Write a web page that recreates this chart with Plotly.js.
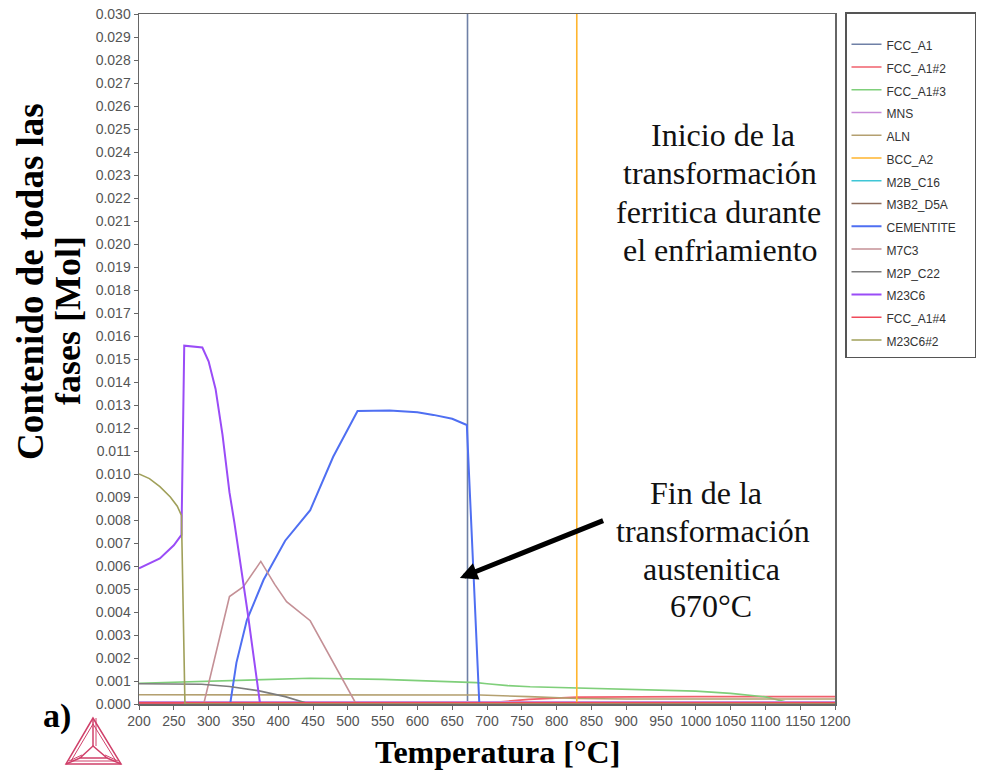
<!DOCTYPE html>
<html>
<head>
<meta charset="utf-8">
<script src="https://cdn.plot.ly/plotly-3.0.1.min.js"></script>
<style>html,body{margin:0;padding:0;background:#fff;}#chart{width:981px;height:778px;}</style>
</head>
<body>
<div id="chart"></div>
<script>
// ---- data (temperature in °C, amount in mol) ----
const phaseNames = ["FCC_A1","FCC_A1#2","FCC_A1#3","MNS","ALN","BCC_A2","M2B_C16","M3B2_D5A","CEMENTITE","M7C3","M2P_C22","M23C6","FCC_A1#4","M23C6#2"];

const T_FCC_A1 = [200, 672, 672, 700, 800, 900, 1200];
const V_FCC_A1 = [0, 0, 0.35, 0.6, 0.95, 1.0, 1.0];

const T_FCC_A1_2 = [200, 690, 720, 760, 830, 900, 1000, 1100, 1200];
const V_FCC_A1_2 = [0, 0, 0.0001, 0.0002, 0.0003, 0.00032, 0.00032, 0.00032, 0.00032];

const T_FCC_A1_3 = [200, 300, 400, 446, 550, 685, 700, 730, 762, 850, 948, 1000, 1050, 1100, 1142, 1200];
const V_FCC_A1_3 = [0.0009, 0.001, 0.0011, 0.00112, 0.00107, 0.00093, 0.00088, 0.0008, 0.00075, 0.00067, 0.00061, 0.00056, 0.00046, 0.00031, 0, 0];

const T_MNS = [200, 1200];
const V_MNS = [0.0001, 0.0001];

const T_ALN = [200, 690, 760, 830, 900, 1200];
const V_ALN = [0.0004, 0.00039, 0.00032, 0.00024, 0.00022, 0.00022];

const T_BCC_A2 = [200, 829, 829, 1200];
const V_BCC_A2 = [0.98, 0.98, 0, 0];

const T_M2B_C16 = [200, 1200];
const V_M2B_C16 = [0, 0];

const T_M3B2_D5A = [200, 1200];
const V_M3B2_D5A = [0, 0];

const T_CEMENTITE = [200, 331, 340, 355, 379, 410, 446, 479, 514, 560, 600, 623, 650, 671, 681, 689, 1200];
const V_CEMENTITE = [0, 0, 0.0018, 0.00365, 0.0054, 0.0071, 0.00843, 0.01075, 0.01274, 0.01276, 0.01268, 0.01257, 0.0124, 0.01213, 0.0054, 0, 0];

const T_M7C3 = [200, 293, 330, 350, 375, 395, 412, 446, 512, 1200];
const V_M7C3 = [0, 0, 0.00467, 0.0051, 0.0062, 0.0052, 0.00445, 0.00362, 0, 0];

const T_M2P_C22 = [200, 250, 290, 330, 371, 410, 445, 1200];
const V_M2P_C22 = [0.00088, 0.00088, 0.00086, 0.00076, 0.00058, 0.00032, 0, 0];

const T_M23C6 = [200, 230, 250, 261, 265, 291, 300, 310, 320, 330, 337, 356, 374, 1200];
const V_M23C6 = [0.0059, 0.00633, 0.0069, 0.00735, 0.01558, 0.0155, 0.0149, 0.0137, 0.0117, 0.0092, 0.0079, 0.0040, 0, 0];

const T_FCC_A1_4 = [200, 1200];
const V_FCC_A1_4 = [0.00005, 0.00005];

const T_M23C6_2 = [200, 215, 230, 245, 255, 261, 266, 1200];
const V_M23C6_2 = [0.0100, 0.0098, 0.00945, 0.0090, 0.0086, 0.0082, 0, 0];

const xTickVals = [200,250,300,350,400,450,500,550,600,650,700,750,800,850,900,950,1000,1050,1100,1150,1200];

// ---- styles ----
const colors = ["#6f80a6","#f0606c","#7fcf7a","#c88ad8","#b4a070","#ffb52e","#3fc6d6","#8c6c5c","#4f6ff2","#c49096","#7c7c7c","#9a4cf7","#f04a5a","#a0a05a"];
const series = [
  [T_FCC_A1, V_FCC_A1], [T_FCC_A1_2, V_FCC_A1_2], [T_FCC_A1_3, V_FCC_A1_3], [T_MNS, V_MNS],
  [T_ALN, V_ALN], [T_BCC_A2, V_BCC_A2], [T_M2B_C16, V_M2B_C16], [T_M3B2_D5A, V_M3B2_D5A],
  [T_CEMENTITE, V_CEMENTITE], [T_M7C3, V_M7C3], [T_M2P_C22, V_M2P_C22], [T_M23C6, V_M23C6],
  [T_FCC_A1_4, V_FCC_A1_4], [T_M23C6_2, V_M23C6_2]
];

const traces = series.map((s, i) => ({
  type: 'scatter', mode: 'lines',
  x: s[0], y: s[1],
  name: '<span style="font-size:12px">' + phaseNames[i] + '&nbsp;&nbsp;&nbsp;&nbsp;</span>',
  line: {color: colors[i], width: (i === 8 || i === 11) ? 2 : 1.6},
  cliponaxis: true
}));

// plot area geometry (pixels)
const L = 139, R = 835, TOP = 14, BOT = 704;
const W = 981, H = 778;
const px = v => (v - L) / (R - L);
const py = v => (BOT - v) / (BOT - TOP);

const serif = "Liberation Serif, Times New Roman, serif";
const annoFont = {family: serif, size: 32, color: '#111'};
const textLine = (t, x, y) => ({xref:'paper', yref:'paper', x: px(x), y: py(y), text: t,
  showarrow:false, font: annoFont, xanchor:'center', yanchor:'middle'});

const ann = [
  textLine('Inicio de la', 723, 135),
  textLine('transformación', 720, 173),
  textLine('ferritica durante', 718, 212),
  textLine('el enfriamiento', 720, 250),
  textLine('Fin de la', 706, 493),
  textLine('transformación', 713, 531),
  textLine('austenitica', 711, 569),
  textLine('670°C', 711, 606),
  {xref:'x', yref:'y', x: 661, y: 0.00548, axref:'x', ayref:'y', ax: 869, ay: 0.0080, text:'',
   showarrow:true, arrowhead:2, arrowsize:0.7, arrowwidth:5, arrowcolor:'#000'},
  {xref:'paper', yref:'paper', x: px(30), y: py(282), text: '<b>Contenido de todas las</b>', textangle:-90,
   showarrow:false, font:{family:serif, size:37, color:'#000'}, xanchor:'center', yanchor:'middle'},
  {xref:'paper', yref:'paper', x: px(68), y: py(321), text: '<b>fases [Mol]</b>', textangle:-90,
   showarrow:false, font:{family:serif, size:36, color:'#000'}, xanchor:'center', yanchor:'middle'},
  {xref:'paper', yref:'paper', x: px(497), y: py(752), text: '<b>Temperatura [°C]</b>',
   showarrow:false, font:{family:serif, size:32, color:'#000'}, xanchor:'center', yanchor:'middle'},
  {xref:'paper', yref:'paper', x: px(57), y: py(716), text: '<b>a)</b>',
   showarrow:false, font:{family:serif, size:34, color:'#000'}, xanchor:'center', yanchor:'middle'}
];

// Thermo-Calc style logo (decoration)
const lc = '#d0406a';
const P = (x, y) => px(x).toFixed(5) + ',' + py(y).toFixed(5);
const tri = (a, b, c) => 'M' + P(a[0], a[1]) + ' L' + P(b[0], b[1]) + ' L' + P(c[0], c[1]) + ' Z';
const seg = (a, b) => 'M' + P(a[0], a[1]) + ' L' + P(b[0], b[1]);
const oT = [93, 718], oL = [66, 764], oR = [121, 764];
const iT = [93, 746], iL = [80, 758], iR = [107, 758];
const shapes = [
  {type:'path', xref:'paper', yref:'paper', path: tri(oT, oL, oR), line:{color:lc, width:1.5}},
  {type:'path', xref:'paper', yref:'paper', path: tri([93,724],[71,761],[116,761]), line:{color:lc, width:1}},
  {type:'path', xref:'paper', yref:'paper', path: tri(iT, iL, iR), line:{color:lc, width:1.5}},
  {type:'path', xref:'paper', yref:'paper', path: seg(oT, iT), line:{color:lc, width:1.5}},
  {type:'path', xref:'paper', yref:'paper', path: seg(oL, iL), line:{color:lc, width:1.5}},
  {type:'path', xref:'paper', yref:'paper', path: seg(oR, iR), line:{color:lc, width:1.5}},
  {type:'path', xref:'paper', yref:'paper', path: seg([96,718],[96,746]), line:{color:lc, width:1}},
  {type:'path', xref:'paper', yref:'paper', path: seg([69,761],[82,755]), line:{color:lc, width:1}},
  {type:'path', xref:'paper', yref:'paper', path: seg([118,761],[105,755]), line:{color:lc, width:1}}
];

const axisCommon = {
  showline: true, mirror: true, linecolor: '#666', linewidth: 1.5,
  ticks: 'outside', ticklen: 4, tickwidth: 1, tickcolor: '#666',
  showgrid: false, zeroline: false,
  tickfont: {family: 'Liberation Sans, Arial, sans-serif', size: 14, color: '#555'}
};

const layout = {
  width: W, height: H,
  margin: {l: L, r: W - R, t: TOP, b: H - BOT, pad: 0},
  paper_bgcolor: '#fff', plot_bgcolor: '#fff',
  showlegend: true,
  legend: {xref: 'container', yref: 'container', x: 845 / W, xanchor: 'left', y: 1 - 12 / H, yanchor: 'top',
           bordercolor: '#555', borderwidth: 1.5, bgcolor: '#fff',
           font: {family: 'Liberation Sans, Arial, sans-serif', size: 15.2, color: '#333'},
           title: {text: '&nbsp;', font: {size: 11}},
           tracegroupgap: 0},
  xaxis: Object.assign({}, axisCommon, {range: [200, 1200], tickvals: xTickVals, ticktext: xTickVals.map(String), automargin: false}),
  yaxis: Object.assign({}, axisCommon, {range: [0, 0.030], dtick: 0.001, tick0: 0, tickformat: '.3f', automargin: false}),
  annotations: ann,
  shapes: shapes
};

Plotly.newPlot('chart', traces, layout, {displayModeBar: false, staticPlot: true});
</script>
</body>
</html>
